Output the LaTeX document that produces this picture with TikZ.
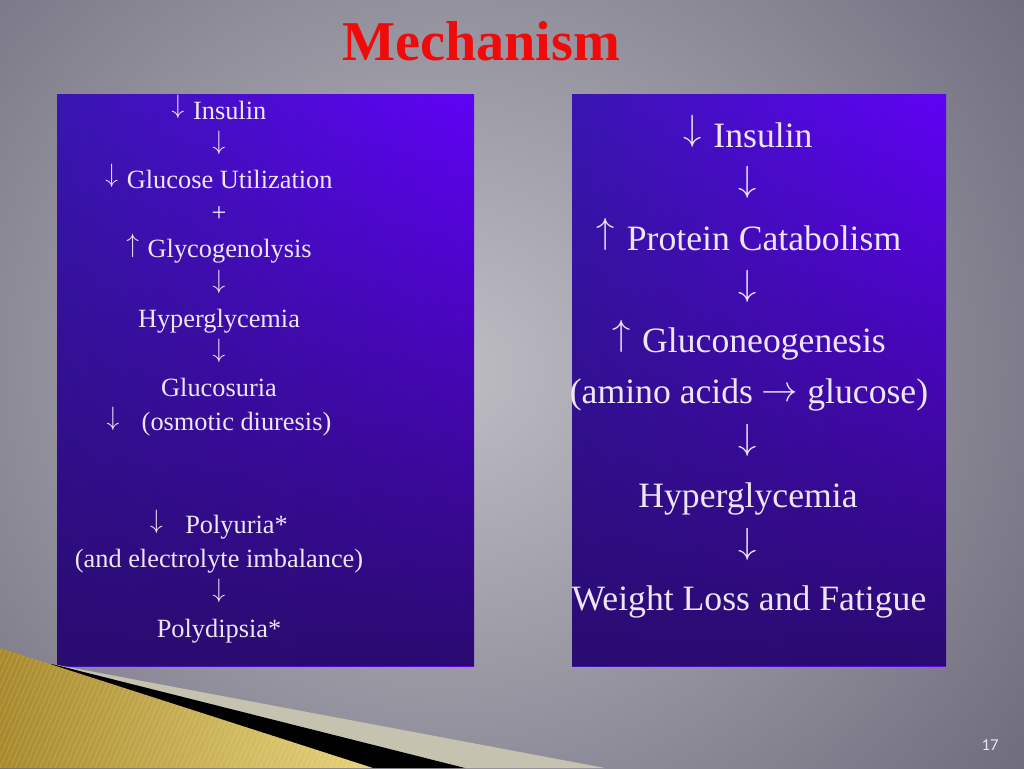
\documentclass[tikz,border=0pt]{standalone}
\usepackage{fontspec}
\setmainfont{Liberation Serif}
\newfontfamily\pnfont{Carlito}
\usetikzlibrary{fadings}
\definecolor{bgin}{HTML}{BEBCC3}
\definecolor{bgout}{HTML}{6C6A7A}
\definecolor{panL}{HTML}{3A16B2}
\definecolor{panR}{HTML}{6002F6}
\definecolor{panB}{HTML}{2A0B70}
\definecolor{txt}{HTML}{EEE6F4}
\definecolor{ttl}{HTML}{F20A0A}
\definecolor{goldA}{HTML}{A88A2C}
\definecolor{goldB}{HTML}{E8D47C}
\definecolor{beige}{HTML}{C6C2B0}
\definecolor{pn}{HTML}{E6E6EE}
\newcommand{\arrscale}{1}
\newcommand{\myDown}{\raisebox{0.19em}{\scalebox{1}[\arrscale]{$\downarrow$}}}
\newcommand{\myUp}{\raisebox{0.19em}{\scalebox{1}[\arrscale]{$\uparrow$}}}
\newcommand{\myRight}{\raisebox{0.05em}{$\rightarrow$}}
\newcommand{\gap}{\hspace{0.08em}\ }
\tikzfading[name=panelfade, top color=transparent!100, middle color=transparent!80, bottom color=transparent!0]
\begin{document}
\begin{tikzpicture}[x=0.02cm,y=-0.02cm,
  lt/.style={anchor=base, text=txt, inner sep=0pt, font=\fontsize{15}{18}\selectfont\renewcommand{\arrscale}{1.05}},
  rt/.style={anchor=base, text=txt, inner sep=0pt, font=\fontsize{20.3}{24}\selectfont\renewcommand{\arrscale}{1}},
  panelshade/.style={left color=panL, right color=panR},
  paneldark/.style={panB, path fading=panelfade}]
\useasboundingbox (0,0) rectangle (1024,768);
% background
\begin{scope}
\clip (0,0) rectangle (1024,768);
\shade[inner color=bgin, outer color=bgout] (-290,-330) rectangle (1190,1070);
\end{scope}
% panels
\shade[panelshade] (57,94) rectangle (474,666);
\fill[paneldark] (57,94) rectangle (474,666);
\shade[panelshade] (572,94) rectangle (946,666);
\fill[paneldark] (572,94) rectangle (946,666);
% decoration
\fill[beige] (52,664) -- (605,768) -- (0,768) -- cycle;
\fill[black] (52,664) -- (465,768) -- (0,768) -- cycle;
\begin{scope}
\clip (0,648) -- (373,768) -- (0,768) -- cycle;
\shade[left color=goldA, right color=goldB] (0,640) rectangle (380,768);
\foreach \i in {-80,-75,...,380}
  \draw[white, opacity=0.13, line width=0.6pt] (\i,768) -- (\i+60,630);
\end{scope}
% title
\node[anchor=base, text=ttl, inner sep=0pt, font=\fontsize{32}{38}\selectfont\bfseries] (title) at (481,60) {Mechanism};
% left panel
\node[lt] (l1) at (219,119) {\myDown\gap Insulin};
\node[lt] (l2) at (219,155) {\myDown};
\node[lt] (l3) at (219,188) {\myDown\gap Glucose Utilization};
\node[lt] (l4) at (219,221) {+};
\node[lt] (l5) at (219,257) {\myUp\gap Glycogenolysis};
\node[lt] (l6) at (219,293) {\myDown};
\node[lt] (l7) at (219,327) {Hyperglycemia};
\node[lt] (l8) at (219,362) {\myDown};
\node[lt] (l9) at (219,396) {Glucosuria};
\node[lt] (l10) at (219,430) {\myDown\hspace{0.6em} (osmotic diuresis)};
\node[lt] (l11) at (219,533) {\myDown\hspace{0.6em} Polyuria*};
\node[lt] (l12) at (219,567) {(and electrolyte imbalance)};
\node[lt] (l13) at (219,602) {\myDown};
\node[lt] (l14) at (219,637) {Polydipsia*};
% right panel
\node[rt] (r1) at (748,147) {\myDown\gap Insulin};
\node[rt] (r2) at (748,198) {\myDown};
\node[rt] (r3) at (749,250) {\myUp\gap Protein Catabolism};
\node[rt] (r4) at (748,302) {\myDown};
\node[rt] (r5) at (749,352) {\myUp\gap Gluconeogenesis};
\node[rt] (r6) at (749,403) {(amino acids \myRight\ glucose)};
\node[rt] (r7) at (748,456) {\myDown};
\node[rt] (r8) at (748,507) {Hyperglycemia};
\node[rt] (r9) at (748,560) {\myDown};
\node[rt] (r10) at (749,610) {Weight Loss and Fatigue};
% page number
\node[anchor=base, text=pn, inner sep=0pt, font=\pnfont\fontsize{9.5}{11}\selectfont] (pg) at (990,750) {17};
\end{tikzpicture}
\end{document}
